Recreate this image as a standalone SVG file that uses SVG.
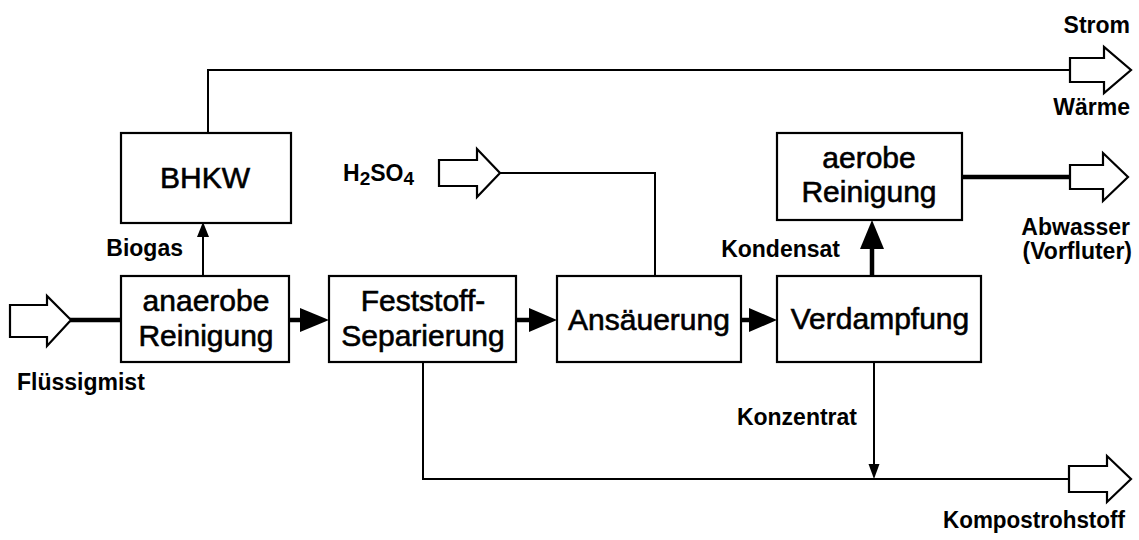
<svg xmlns="http://www.w3.org/2000/svg" width="1139" height="540" viewBox="0 0 1139 540">
<style>
.box{fill:#fff;stroke:#000;stroke-width:2.2}
.bt{font-family:"Liberation Sans",Arial,sans-serif;font-size:30px;fill:#000;stroke:#000;stroke-width:0.6;text-anchor:middle}
.lb{font-family:"Liberation Sans",Arial,sans-serif;font-size:23px;font-weight:bold;fill:#000}
.thin{fill:none;stroke:#000;stroke-width:2}
.thick{fill:none;stroke:#000;stroke-width:4.5}
.hollow{fill:#fff;stroke:#000;stroke-width:2.2;stroke-linejoin:miter}
.head{fill:#000;stroke:none}
</style>
<rect width="1139" height="540" fill="#fff"/>
<g id="connectors">
  <polyline class="thin" points="208,133 208,70 1071,70"/>
  <line class="thick" x1="70" y1="320" x2="122" y2="320"/>
  <line class="thick" x1="288" y1="320" x2="302" y2="320"/>
  <polygon class="head" points="300,308 329,320 300,332"/>
  <line class="thick" x1="515" y1="320" x2="531" y2="320"/>
  <polygon class="head" points="529,308 557,320 529,332"/>
  <line class="thick" x1="740" y1="320" x2="751" y2="320"/>
  <polygon class="head" points="749,308 777,320 749,332"/>
  <line class="thin" x1="203" y1="276" x2="203" y2="235"/>
  <polygon class="head" points="197,237 203,222 209,237"/>
  <polyline class="thin" points="499,173 655,173 655,276"/>
  <line class="thick" x1="872" y1="276" x2="872" y2="246"/>
  <polygon class="head" points="860,249 872,220 884,249"/>
  <line class="thick" x1="961" y1="177" x2="1071" y2="177"/>
  <polyline class="thin" points="423,362 423,479 1070,479"/>
  <line class="thin" x1="874" y1="362" x2="874" y2="466"/>
  <polygon class="head" points="868.5,464 874,479 879.5,464"/>
</g>
<g id="in-fluessigmist">
  <polygon class="hollow" points="10,305 47,305 47,296 71,320 47,346 47,337 10,337"/>
  <text class="lb" x="17" y="390">Flüssigmist</text>
</g>
<g id="in-h2so4">
  <polygon class="hollow" points="439,160 477,160 477,149 500,173 477,197 477,186 439,186"/>
  <text class="lb" x="343" y="181" font-size="24">H<tspan font-size="19" dy="4">2</tspan><tspan dy="-4">SO</tspan><tspan font-size="19" dy="4">4</tspan></text>
</g>
<g id="out-strom">
  <polygon class="hollow" points="1070,58 1104,58 1104,47 1131,70 1104,93 1104,82 1070,82"/>
  <text class="lb" x="1130" y="33" text-anchor="end">Strom</text>
  <text class="lb" x="1130" y="115" text-anchor="end">Wärme</text>
</g>
<g id="out-abwasser">
  <polygon class="hollow" points="1070,165 1103,165 1103,153 1128,177 1103,201 1103,189 1070,189"/>
  <text class="lb" x="1130" y="235" text-anchor="end">Abwasser</text>
  <text class="lb" x="1132" y="259" text-anchor="end">(Vorfluter)</text>
</g>
<g id="out-kompost">
  <polygon class="hollow" points="1069,466 1107,466 1107,456 1131,479 1107,502 1107,492 1069,492"/>
  <text class="lb" x="943" y="528" textLength="182" lengthAdjust="spacingAndGlyphs">Kompostrohstoff</text>
</g>
<g id="bhkw">
  <rect class="box" x="121" y="133" width="170" height="90"/>
  <text class="bt" x="205" y="188">BHKW</text>
</g>
<g id="anaerob">
  <rect class="box" x="121" y="276" width="168" height="86"/>
  <text class="bt" x="206" y="311">anaerobe</text>
  <text class="bt" x="206" y="346">Reinigung</text>
</g>
<g id="feststoff">
  <rect class="box" x="329" y="276" width="187" height="86"/>
  <text class="bt" x="423" y="311">Feststoff-</text>
  <text class="bt" x="423" y="346">Separierung</text>
</g>
<g id="ansaeuerung">
  <rect class="box" x="557" y="276" width="184" height="86"/>
  <text class="bt" x="649" y="330">Ansäuerung</text>
</g>
<g id="verdampfung">
  <rect class="box" x="777" y="276" width="204" height="86"/>
  <text class="bt" x="880" y="329">Verdampfung</text>
</g>
<g id="aerob">
  <rect class="box" x="777" y="133" width="185" height="87"/>
  <text class="bt" x="869" y="168">aerobe</text>
  <text class="bt" x="869" y="202">Reinigung</text>
</g>
<g id="labels">
  <text class="lb" x="183" y="256" text-anchor="end">Biogas</text>
  <text class="lb" x="840" y="257" text-anchor="end">Kondensat</text>
  <text class="lb" x="857" y="425" text-anchor="end">Konzentrat</text>
</g>
</svg>
